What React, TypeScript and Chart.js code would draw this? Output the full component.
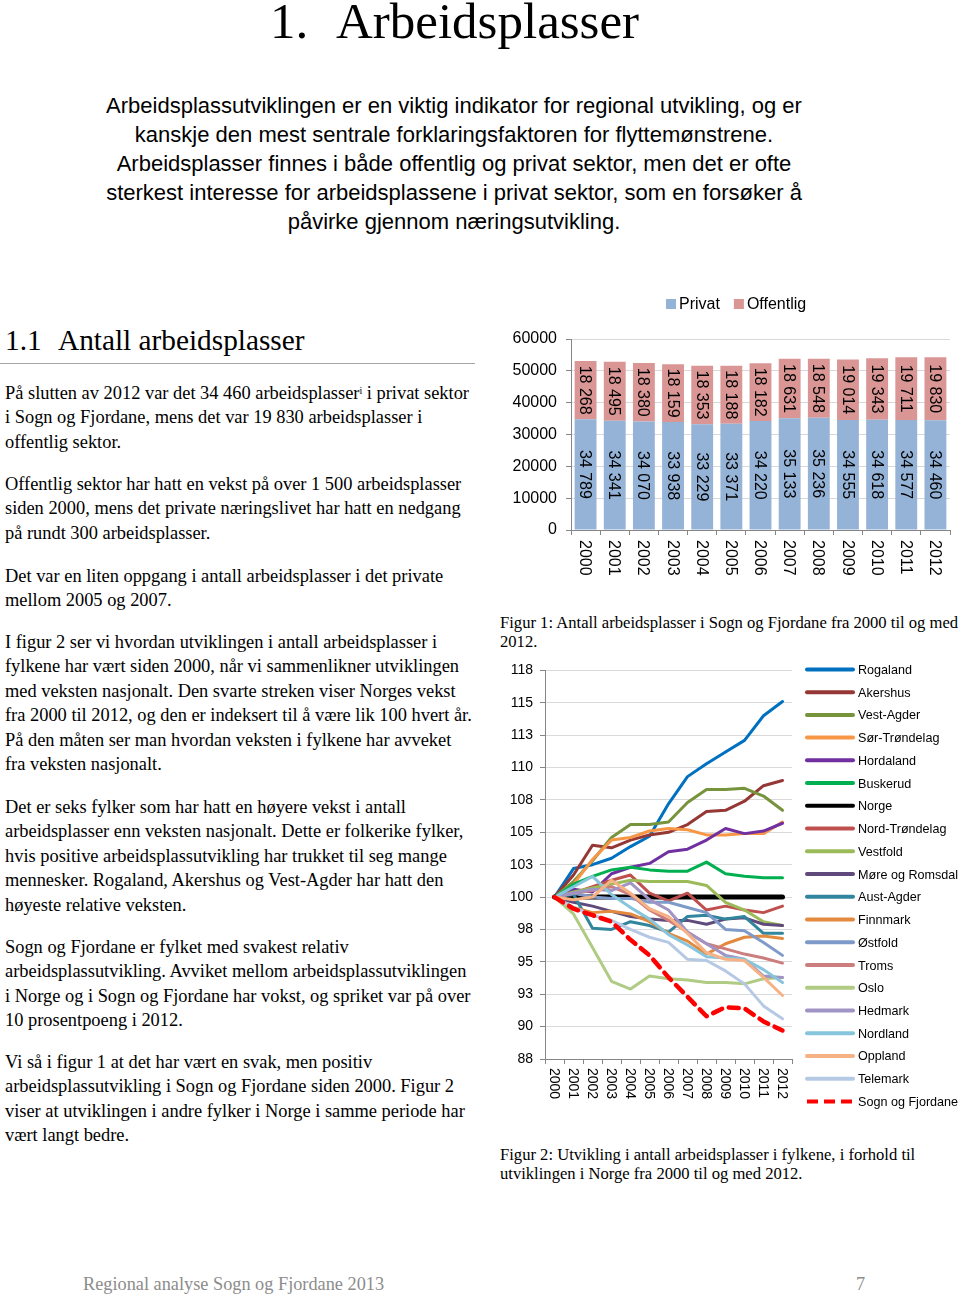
import React, { useEffect, useRef } from 'react';
import { Chart, registerables } from 'chart.js';

Chart.register(...registerables);

const SERIF = '"Liberation Serif", "Times New Roman", serif';
const SANS = '"Liberation Sans", Arial, sans-serif';
Chart.defaults.font.family = SANS;
Chart.defaults.color = '#000';

// ---------- Figure 1 data ----------
const years = ['2000', '2001', '2002', '2003', '2004', '2005', '2006', '2007', '2008', '2009', '2010', '2011', '2012'];
const privat = [34789, 34341, 34070, 33938, 33229, 33371, 34220, 35133, 35236, 34555, 34618, 34577, 34460];
const offentlig = [18268, 18495, 18380, 18159, 18353, 18188, 18182, 18631, 18548, 19014, 19343, 19711, 19830];
const barSeriesNames = ['Privat', 'Offentlig'];
const barColors = ['#95B3D7', '#D99694'];

// ---------- Figure 2 data (index, 2000 = 100) ----------
const rogaland = [100, 102.2, 102.5, 103.0, 103.9, 104.7, 107.2, 109.3, 110.3, 111.2, 112.1, 114.0, 115.1];
const akershus = [100, 101.7, 104.0, 103.8, 104.4, 104.8, 105.0, 105.6, 106.6, 106.7, 107.4, 108.6, 109.0];
const vestAgder = [100, 101.2, 102.8, 104.6, 105.6, 105.6, 105.8, 107.3, 108.3, 108.3, 108.4, 107.8, 106.7];
const sorTrondelag = [100, 101.0, 102.9, 104.4, 104.6, 105.1, 105.3, 105.2, 104.8, 104.8, 104.9, 104.9, 105.8];
const hordaland = [100, 100.6, 100.4, 101.8, 102.3, 102.6, 103.5, 103.7, 104.4, 105.3, 104.9, 105.1, 105.7];
const buskerud = [100, 101.0, 101.6, 102.1, 102.3, 102.1, 102.0, 102.0, 102.7, 101.8, 101.6, 101.5, 101.5];
const norge = [100, 100, 100, 100, 100, 100, 100, 100, 100, 100, 100, 100, 100];
const nordTrondelag = [100, 100.3, 100.8, 101.3, 101.7, 100.3, 99.7, 100.3, 99.0, 99.3, 99.0, 98.8, 99.3];
const vestfold = [100, 100.4, 100.7, 101.0, 101.3, 101.2, 101.2, 101.2, 100.9, 99.6, 99.0, 98.1, 97.8];
const moreRomsdal = [100, 99.6, 99.3, 98.9, 98.5, 98.3, 98.2, 98.2, 97.9, 98.3, 98.4, 97.9, 97.8];
const austAgder = [100, 100.2, 97.6, 97.5, 98.1, 97.8, 97.3, 98.5, 98.6, 98.3, 98.5, 97.2, 97.2];
const finnmark = [100, 99.2, 98.8, 98.9, 98.7, 98.1, 97.2, 96.6, 95.6, 96.4, 96.9, 97.0, 96.8];
const ostfold = [100, 100.3, 100.0, 99.9, 99.9, 99.6, 99.6, 99.2, 98.8, 97.5, 97.4, 96.5, 95.5];
const troms = [100, 100.3, 100.5, 100.8, 100.2, 99.0, 98.2, 97.3, 96.4, 96.0, 95.6, 95.3, 94.9];
const oslo = [100, 98.7, 96.1, 93.5, 92.9, 93.9, 93.7, 93.6, 93.4, 93.4, 93.3, 93.7, 93.8];
const hedmark = [100, 100.3, 100.6, 100.5, 101.1, 99.8, 99.0, 97.3, 96.4, 95.5, 95.2, 93.9, 93.8];
const nordland = [100, 100.8, 101.6, 100.2, 99.2, 98.3, 97.1, 96.3, 95.4, 95.3, 95.2, 94.4, 93.4];
const oppland = [100, 99.8, 100.0, 101.3, 100.3, 99.1, 98.5, 97.2, 95.7, 95.2, 95.1, 93.8, 92.4];
const telemark = [100, 99.2, 98.6, 98.2, 97.5, 96.9, 96.5, 95.2, 95.1, 94.3, 93.3, 91.6, 90.6];
const sognFjordane = [100, 99.1, 98.6, 98.1, 96.7, 95.5, 93.8, 92.3, 90.8, 91.5, 91.4, 90.4, 89.7];

const countyNames = ['Rogaland', 'Akershus', 'Vest-Agder', 'Sør-Trøndelag', 'Hordaland', 'Buskerud', 'Norge',
  'Nord-Trøndelag', 'Vestfold', 'Møre og Romsdal', 'Aust-Agder', 'Finnmark', 'Østfold', 'Troms', 'Oslo',
  'Hedmark', 'Nordland', 'Oppland', 'Telemark', 'Sogn og Fjordane'];
const countyValues = [rogaland, akershus, vestAgder, sorTrondelag, hordaland, buskerud, norge,
  nordTrondelag, vestfold, moreRomsdal, austAgder, finnmark, ostfold, troms, oslo,
  hedmark, nordland, oppland, telemark, sognFjordane];
const countyColors = ['#0070C0', '#953735', '#77933C', '#F79646', '#7030A0', '#00B050', '#000000',
  '#C0504D', '#9BBB59', '#604A7B', '#31859C', '#E38A3F', '#7E9AC8', '#CC7E7E', '#B0CB84',
  '#A094C4', '#86C5DB', '#F6B285', '#B6C9E4', '#FF0000'];
const yTicks2 = { min: 87.5, max: 117.5, step: 2.5 };

const fmtThousands = (v: number) => `${Math.floor(v / 1000)} ${String(v % 1000).padStart(3, '0')}`;

const barDecor = {
  id: 'barDecor',
  afterDraw(chart: any) {
    const { ctx, chartArea, scales } = chart;
    const xs = scales.x;
    ctx.save();
    ctx.fillStyle = '#000';
    ctx.font = `16px ${SANS}`;
    chart.data.labels.forEach((lab: string, i: number) => {
      const px = xs.getPixelForTick(i);
      ctx.save();
      ctx.translate(px, chartArea.bottom + 10);
      ctx.rotate(Math.PI / 2);
      ctx.textAlign = 'left';
      ctx.textBaseline = 'middle';
      ctx.fillText(lab, 0, 1);
      ctx.restore();
    });
    chart.data.datasets.forEach((ds: any, di: number) => {
      const meta = chart.getDatasetMeta(di);
      meta.data.forEach((el: any, i: number) => {
        const p = el.getProps(['x', 'y', 'base'], true);
        ctx.save();
        ctx.translate(p.x, (p.y + p.base) / 2);
        ctx.rotate(Math.PI / 2);
        ctx.textAlign = 'center';
        ctx.textBaseline = 'middle';
        ctx.fillText(fmtThousands(ds.data[i]), 0, 1);
        ctx.restore();
      });
    });
    // legend
    let lx = chartArea.left + 95;
    const ly = chartArea.top - 35;
    chart.data.datasets.forEach((ds: any) => {
      ctx.fillStyle = ds.backgroundColor;
      ctx.fillRect(lx, ly - 5, 10, 10);
      ctx.fillStyle = '#000';
      ctx.textAlign = 'left';
      ctx.textBaseline = 'middle';
      ctx.fillText(ds.label, lx + 13, ly + 1);
      lx += 13 + ctx.measureText(ds.label).width + 14;
    });
    ctx.restore();
  },
};

const lineDecor = {
  id: 'lineDecor',
  afterDraw(chart: any) {
    const { ctx, chartArea, scales } = chart;
    const xs = scales.x;
    ctx.save();
    ctx.fillStyle = '#000';
    ctx.font = `14px ${SANS}`;
    chart.data.labels.forEach((lab: string, i: number) => {
      const px = xs.getPixelForTick(i);
      ctx.save();
      ctx.translate(px, chartArea.bottom + 9);
      ctx.rotate(Math.PI / 2);
      ctx.textAlign = 'left';
      ctx.textBaseline = 'middle';
      ctx.fillText(lab, 0, 1);
      ctx.restore();
    });
    const x0 = chartArea.right + 13;
    const y0 = chartArea.top - 1;
    ctx.font = `12.6px ${SANS}`;
    chart.data.datasets.forEach((ds: any, i: number) => {
      const y = y0 + i * 22.74;
      ctx.strokeStyle = ds.borderColor;
      ctx.lineWidth = 4;
      ctx.lineCap = ds.borderDash && ds.borderDash.length ? 'butt' : 'round';
      ctx.setLineDash(ds.borderDash && ds.borderDash.length ? [11, 6] : []);
      ctx.beginPath();
      ctx.moveTo(x0 + 2, y);
      ctx.lineTo(x0 + 48, y);
      ctx.stroke();
      ctx.setLineDash([]);
      ctx.fillStyle = '#000';
      ctx.textAlign = 'left';
      ctx.textBaseline = 'middle';
      ctx.fillText(ds.label, x0 + 53, y + 1);
    });
    ctx.restore();
  },
};

function BarChart() {
  const ref = useRef<HTMLCanvasElement>(null);
  useEffect(() => {
    const chart = new Chart(ref.current as HTMLCanvasElement, {
      type: 'bar',
      data: {
        labels: years,
        datasets: [privat, offentlig].map((d, i) => ({
          label: barSeriesNames[i],
          data: d,
          backgroundColor: barColors[i],
          borderWidth: 0,
          barPercentage: 0.75,
          categoryPercentage: 1,
        })),
      },
      options: {
        animation: false,
        responsive: false,
        maintainAspectRatio: false,
        layout: { padding: { top: 49, right: 10, left: 0, bottom: 0 } },
        plugins: { legend: { display: false }, tooltip: { enabled: false } },
        scales: {
          x: {
            stacked: true,
            offset: true,
            grid: { display: true, drawOnChartArea: false, drawTicks: true, tickLength: 5, tickColor: '#868686', offset: true },
            border: { color: '#868686' },
            ticks: { display: false },
            afterFit: (s: any) => { s.height = 60; },
          },
          y: {
            stacked: true,
            min: 0,
            max: 60000,
            ticks: { stepSize: 10000, font: { size: 16 }, padding: 9, color: '#000', callback: (v: any) => String(v) },
            grid: { color: '#D9D9D9', tickColor: '#868686', tickLength: 5 },
            border: { color: '#868686' },
            afterFit: (s: any) => { s.width = 81; },
          },
        },
      },
      plugins: [barDecor],
    } as any);
    return () => chart.destroy();
  }, []);
  return <canvas ref={ref} width={470} height={300} style={{ position: 'absolute', left: 490, top: 290, width: 470, height: 300 }} />;
}

function LineChart() {
  const ref = useRef<HTMLCanvasElement>(null);
  useEffect(() => {
    const n = countyNames.length;
    const chart = new Chart(ref.current as HTMLCanvasElement, {
      type: 'line',
      data: {
        labels: years,
        datasets: countyNames.map((name, i) => ({
          label: name,
          data: countyValues[i],
          borderColor: countyColors[i],
          backgroundColor: countyColors[i],
          borderWidth: name === 'Norge' ? 5 : name === 'Sogn og Fjordane' ? 4.5 : 3,
          borderDash: name === 'Sogn og Fjordane' ? [10, 7] : [],
          borderJoinStyle: 'round',
          borderCapStyle: 'round',
          pointRadius: 0,
          tension: 0,
          fill: false,
          order: n - i,
        })),
      },
      options: {
        animation: false,
        responsive: false,
        maintainAspectRatio: false,
        layout: { padding: { top: 13, right: 168, left: 0, bottom: 0 } },
        plugins: { legend: { display: false }, tooltip: { enabled: false } },
        scales: {
          x: {
            offset: true,
            grid: { display: true, drawOnChartArea: false, drawTicks: true, tickLength: 5, tickColor: '#868686', offset: true },
            border: { color: '#868686' },
            ticks: { display: false },
            afterFit: (s: any) => { s.height = 56; },
          },
          y: {
            min: yTicks2.min,
            max: yTicks2.max,
            ticks: {
              stepSize: yTicks2.step,
              font: { size: 14 },
              padding: 7,
              color: '#000',
              callback: (v: any) => String(Math.round(Number(v))),
            },
            grid: { color: '#D9D9D9', tickColor: '#868686', tickLength: 5 },
            border: { color: '#868686' },
            afterFit: (s: any) => { s.width = 55; },
          },
        },
      },
      plugins: [lineDecor],
    } as any);
    return () => chart.destroy();
  }, []);
  return <canvas ref={ref} width={470} height={460} style={{ position: 'absolute', left: 490, top: 655, width: 470, height: 460 }} />;
}

const bodyStyle: React.CSSProperties = {
  position: 'absolute',
  left: 5,
  fontFamily: SERIF,
  fontSize: 18.4,
  lineHeight: '24.4px',
  whiteSpace: 'nowrap',
  color: '#000',
};

function Para({ top, lines }: { top: number; lines: React.ReactNode[] }) {
  return (
    <div style={{ ...bodyStyle, top }}>
      {lines.map((l, i) => (
        <div key={i}>{l}</div>
      ))}
    </div>
  );
}

export default function App() {
  return (
    <div style={{ position: 'absolute', left: 0, top: 0, width: 960, height: 1295, background: '#fff', overflow: 'hidden' }}>
      {/* Title */}
      <div style={{ position: 'absolute', left: 270, top: -4, fontFamily: SERIF, fontSize: 51, lineHeight: '50px', whiteSpace: 'nowrap' }}>1.</div>
      <div style={{ position: 'absolute', left: 336, top: -4, fontFamily: SERIF, fontSize: 51, lineHeight: '50px', whiteSpace: 'nowrap' }}>Arbeidsplasser</div>

      {/* Intro */}
      <div style={{ position: 'absolute', left: 0, width: 908, top: 91, fontFamily: SANS, fontSize: 22, lineHeight: '29px', textAlign: 'center', whiteSpace: 'nowrap' }}>
        <div>Arbeidsplassutviklingen er en viktig indikator for regional utvikling, og er</div>
        <div>kanskje den mest sentrale forklaringsfaktoren for flyttemønstrene.</div>
        <div>Arbeidsplasser finnes i både offentlig og privat sektor, men det er ofte</div>
        <div>sterkest interesse for arbeidsplassene i privat sektor, som en forsøker å</div>
        <div>påvirke gjennom næringsutvikling.</div>
      </div>

      {/* Section heading */}
      <div style={{ position: 'absolute', left: 5, top: 326, fontFamily: SERIF, fontSize: 29.3, lineHeight: '29px', whiteSpace: 'nowrap' }}>1.1</div>
      <div style={{ position: 'absolute', left: 58, top: 326, fontFamily: SERIF, fontSize: 29.3, lineHeight: '29px', whiteSpace: 'nowrap' }}>Antall arbeidsplasser</div>
      <div style={{ position: 'absolute', left: 0, top: 363, width: 475, height: 1, background: '#A6A6A6' }} />

      <Para top={381} lines={[
        <span>På slutten av 2012 var det 34 460 arbeidsplasser<sup style={{ fontSize: 10, verticalAlign: 'top', position: 'relative', top: -2 }}>i</sup> i privat sektor</span>,
        'i Sogn og Fjordane, mens det var 19 830 arbeidsplasser i',
        'offentlig sektor.',
      ]} />
      <Para top={472} lines={[
        'Offentlig sektor har hatt en vekst på over 1 500 arbeidsplasser',
        'siden 2000, mens det private næringslivet har hatt en nedgang',
        'på rundt 300 arbeidsplasser.',
      ]} />
      <Para top={564} lines={[
        'Det var en liten oppgang i antall arbeidsplasser i det private',
        'mellom 2005 og 2007.',
      ]} />
      <Para top={630} lines={[
        'I figur 2 ser vi hvordan utviklingen i antall arbeidsplasser i',
        'fylkene har vært siden 2000, når vi sammenlikner utviklingen',
        'med veksten nasjonalt. Den svarte streken viser Norges vekst',
        'fra 2000 til 2012, og den er indeksert til å være lik 100 hvert år.',
        'På den måten ser man hvordan veksten i fylkene har avveket',
        'fra veksten nasjonalt.',
      ]} />
      <Para top={795} lines={[
        'Det er seks fylker som har hatt en høyere vekst i antall',
        'arbeidsplasser enn veksten nasjonalt. Dette er folkerike fylker,',
        'hvis positive arbeidsplassutvikling har trukket til seg mange',
        'mennesker. Rogaland, Akershus og Vest-Agder har hatt den',
        'høyeste relative veksten.',
      ]} />
      <Para top={935} lines={[
        'Sogn og Fjordane er fylket med svakest relativ',
        'arbeidsplassutvikling. Avviket mellom arbeidsplassutviklingen',
        'i Norge og i Sogn og Fjordane har vokst, og spriket var på over',
        '10 prosentpoeng i 2012.',
      ]} />
      <Para top={1050} lines={[
        'Vi så i figur 1 at det har vært en svak, men positiv',
        'arbeidsplassutvikling i Sogn og Fjordane siden 2000. Figur 2',
        'viser at utviklingen i andre fylker i Norge i samme periode har',
        'vært langt bedre.',
      ]} />

      <BarChart />
      <div style={{ position: 'absolute', left: 500, top: 613, fontFamily: SERIF, fontSize: 16.6, lineHeight: '19px', whiteSpace: 'nowrap' }}>
        <div>Figur 1: Antall arbeidsplasser i Sogn og Fjordane fra 2000 til og med</div>
        <div>2012.</div>
      </div>

      <LineChart />
      <div style={{ position: 'absolute', left: 500, top: 1145, fontFamily: SERIF, fontSize: 16.6, lineHeight: '19px', whiteSpace: 'nowrap' }}>
        <div>Figur 2: Utvikling i antall arbeidsplasser i fylkene, i forhold til</div>
        <div>utviklingen i Norge fra 2000 til og med 2012.</div>
      </div>

      {/* Footer */}
      <div style={{ position: 'absolute', left: 83, top: 1272, fontFamily: SERIF, fontSize: 18.3, lineHeight: '24px', color: '#8C8C8C', whiteSpace: 'nowrap' }}>Regional analyse Sogn og Fjordane 2013</div>
      <div style={{ position: 'absolute', left: 856, top: 1272, fontFamily: SERIF, fontSize: 18.3, lineHeight: '24px', color: '#8C8C8C' }}>7</div>
    </div>
  );
}
